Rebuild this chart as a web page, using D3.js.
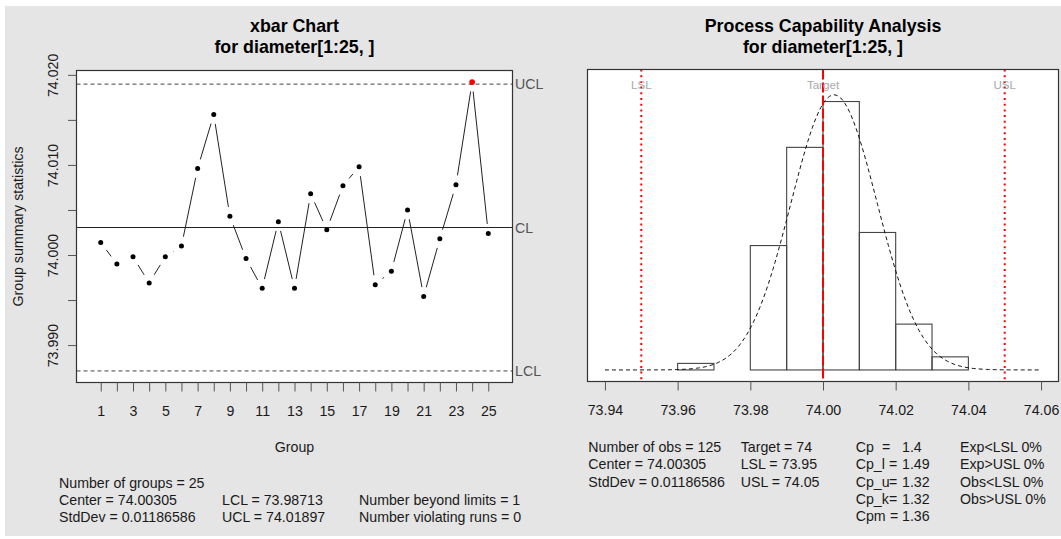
<!DOCTYPE html>
<html>
<head>
<meta charset="utf-8">
<script src="https://cdn.jsdelivr.net/npm/d3@7"></script>
<style>
  html, body { margin: 0; padding: 0; background: #ffffff; }
  svg { display: block; font-family: "Liberation Sans", Arial, sans-serif; }
  text { white-space: pre; }
</style>
</head>
<body>
<svg id="chart" width="1061" height="539"></svg>
<script>
// ---- xbar chart data: group means of diameter[1:25, ] ----
const groups = [1, 2, 3, 4, 5, 6, 7, 8, 9, 10, 11, 12, 13, 14, 15, 16, 17, 18, 19, 20, 21, 22, 23, 24, 25];
const groupMeans = [
  74.0014, 73.9990, 73.9998, 73.9969, 73.9998, 74.0010, 74.0096, 74.0156, 74.0043, 73.9996,
  73.9963, 74.0037, 73.9963, 74.0068, 74.0028, 74.0077, 74.0098, 73.9967, 73.9982, 74.0050,
  73.9954, 74.0018, 74.0078, 74.0192, 74.0024
];
const centerLine = 74.00305;
const lowerLimit = 73.98713;
const upperLimit = 74.01897;
const stdDev = 0.01186586;
const xbarYTicks = [73.990, 73.995, 74.000, 74.005, 74.010, 74.015, 74.020];
const xbarYLabelled = [73.990, 74.000, 74.010, 74.020];

// ---- process capability data ----
const binBreaks = [73.96, 73.97, 73.98, 73.99, 74.00, 74.01, 74.02, 74.03, 74.04];
const binCounts = [1, 0, 19, 34, 41, 21, 7, 2];
const nObs = 125;
const lsl = 73.95, usl = 74.05, target = 74;
const capXTicks = [73.94, 73.96, 73.98, 74.00, 74.02, 74.04, 74.06];
const capIndices = [["Cp", "1.4"], ["Cp_l", "1.49"], ["Cp_u", "1.32"], ["Cp_k", "1.32"], ["Cpm", "1.36"]];
const expObs = ["Exp<LSL 0%", "Exp>USL 0%", "Obs<LSL 0%", "Obs>USL 0%"];

const svg = d3.select("#chart");
const FS = 14.2;
const BOX = "#333333";
const TICK = "#555555";
const TXT = "#1a1a1a";

// panel background
svg.append("rect").attr("x", 5).attr("y", 6).attr("width", 1056).attr("height", 530).attr("fill", "#e5e5e5");

// R-style range expansion by 4% on each side
const pad = ([a, b]) => { const d = (b - a) * 0.04; return [a - d, b + d]; };

// ================= xbar chart =================
const L = { x0: 76.5, x1: 512.5, y0: 70.5, y1: 382.5 };
const xG = d3.scaleLinear().domain(pad([0.5, groups.length + 0.5])).range([L.x0, L.x1]);
const yG = d3.scaleLinear()
  .domain(pad(d3.extent(groupMeans.concat([lowerLimit, upperLimit]))))
  .range([L.y1, L.y0]);

const gL = svg.append("g");
gL.append("rect").attr("x", L.x0).attr("y", L.y0).attr("width", L.x1 - L.x0).attr("height", L.y1 - L.y0)
  .attr("fill", "#ffffff");

// control lines
gL.append("line").attr("x1", L.x0).attr("x2", L.x1).attr("y1", yG(centerLine)).attr("y2", yG(centerLine))
  .attr("stroke", "#222").attr("stroke-width", 1.1);
[lowerLimit, upperLimit].forEach(v => {
  gL.append("line").attr("x1", L.x0).attr("x2", L.x1).attr("y1", yG(v)).attr("y2", yG(v))
    .attr("stroke", "#444").attr("stroke-width", 1).attr("stroke-dasharray", "4,3");
});
[["UCL", upperLimit], ["CL", centerLine], ["LCL", lowerLimit]].forEach(([t, v]) => {
  gL.append("text").attr("x", L.x1 + 2.5).attr("y", yG(v)).attr("dy", "0.36em")
    .attr("font-size", FS).attr("fill", "#555").text(t);
});

// connecting segments with gaps around points
const gap = 9.5;
for (let i = 0; i < groups.length - 1; i++) {
  const ax = xG(groups[i]), ay = yG(groupMeans[i]);
  const bx = xG(groups[i + 1]), by = yG(groupMeans[i + 1]);
  const d = Math.hypot(bx - ax, by - ay);
  if (d <= 2 * gap) continue;
  const ux = (bx - ax) / d, uy = (by - ay) / d;
  gL.append("line")
    .attr("x1", ax + ux * gap).attr("y1", ay + uy * gap)
    .attr("x2", bx - ux * gap).attr("y2", by - uy * gap)
    .attr("stroke", "#222").attr("stroke-width", 1);
}
const outside = v => v > upperLimit || v < lowerLimit;
gL.selectAll("circle.pt").data(groups).join("circle")
  .attr("cx", (g) => xG(g)).attr("cy", (g, i) => yG(groupMeans[i]))
  .attr("r", (g, i) => outside(groupMeans[i]) ? 2.9 : 2.5)
  .attr("fill", (g, i) => outside(groupMeans[i]) ? "#ff0000" : "#000");

gL.append("rect").attr("x", L.x0).attr("y", L.y0).attr("width", L.x1 - L.x0).attr("height", L.y1 - L.y0)
  .attr("fill", "none").attr("stroke", BOX).attr("stroke-width", 1.2);

// axes
const axB = gL.append("g").attr("transform", `translate(0,${L.y1})`)
  .call(d3.axisBottom(xG).tickValues(groups).tickSize(9).tickPadding(14.5)
    .tickFormat(g => (g % 2 === 1 ? String(g) : "")));
const axL = gL.append("g").attr("transform", `translate(${L.x0},0)`)
  .call(d3.axisLeft(yG).tickValues(xbarYTicks).tickSize(8.5)
    .tickFormat(v => (xbarYLabelled.some(t => Math.abs(t - v) < 1e-9) ? d3.format(".3f")(v) : "")));
[axB, axL].forEach(ax => {
  ax.select(".domain").remove();
  ax.selectAll(".tick line").attr("stroke", TICK);
  ax.selectAll(".tick text").attr("font-size", FS).attr("font-family", "Liberation Sans, Arial, sans-serif").attr("fill", TXT);
});
axL.selectAll(".tick text")
  .attr("x", null).attr("dy", "0em")
  .attr("text-anchor", "middle")
  .attr("transform", "translate(-19,0) rotate(-90)")
  .attr("y", 0);

gL.append("text").attr("x", (L.x0 + L.x1) / 2).attr("y", 447.5).attr("dy", "0.35em")
  .attr("text-anchor", "middle").attr("font-size", FS).attr("fill", TXT).text("Group");
gL.append("text").attr("transform", `translate(23,${(L.y0 + L.y1) / 2}) rotate(-90)`)
  .attr("text-anchor", "middle").attr("font-size", FS).attr("fill", TXT).text("Group summary statistics");

// titles
function title(g, cx, lines) {
  lines.forEach((t, i) => {
    g.append("text").attr("x", cx).attr("y", 31.5 + i * 21.5).attr("text-anchor", "middle")
      .attr("font-size", 17.8).attr("font-weight", "bold").attr("fill", "#000").text(t);
  });
}
title(gL, (L.x0 + L.x1) / 2, ["xbar Chart", "for diameter[1:25, ]"]);

// summary text
const lh = 17.2;
const leftStats = [
  [59, 0, `Number of groups = ${groups.length}`],
  [59, 1, `Center = ${centerLine}`],
  [59, 2, `StdDev = ${stdDev}`],
  [222, 1, `LCL = ${lowerLimit}`],
  [222, 2, `UCL = ${upperLimit}`],
  [359, 1, `Number beyond limits = ${groupMeans.filter(outside).length}`],
  [359, 2, "Number violating runs = 0"]
];
leftStats.forEach(([x, r, t]) => {
  gL.append("text").attr("x", x).attr("y", 482.8 + r * lh).attr("dy", "0.35em")
    .attr("font-size", FS).attr("fill", TXT).text(t);
});

// ================= process capability =================
const R = { x0: 587.5, x1: 1058.5, y0: 69.5, y1: 381.5 };
const xC = d3.scaleLinear().domain(pad([capXTicks[0], capXTicks[capXTicks.length - 1]])).range([R.x0, R.x1]);
const binW = binBreaks[1] - binBreaks[0];
const density = binCounts.map(c => c / (nObs * binW));
const dnorm = x => Math.exp(-0.5 * ((x - centerLine) / stdDev) ** 2) / (stdDev * Math.sqrt(2 * Math.PI));
const yMax = d3.max(density.concat([dnorm(centerLine)]));
const yC = d3.scaleLinear().domain(pad([0, yMax * 1.05])).range([R.y1, R.y0]);

const gR = svg.append("g");
gR.append("rect").attr("x", R.x0).attr("y", R.y0).attr("width", R.x1 - R.x0).attr("height", R.y1 - R.y0)
  .attr("fill", "#ffffff");

// histogram bars
gR.selectAll("rect.bin").data(density).join("rect")
  .attr("x", (d, i) => xC(binBreaks[i])).attr("width", (d, i) => xC(binBreaks[i + 1]) - xC(binBreaks[i]))
  .attr("y", d => yC(d)).attr("height", d => yC(0) - yC(d))
  .attr("fill", "none").attr("stroke", "#444").attr("stroke-width", 1.1);

// fitted normal curve
const cx0 = capXTicks[0], cx1 = capXTicks[capXTicks.length - 1];
const curvePts = d3.range(0, 201).map(k => cx0 + (cx1 - cx0) * k / 200);
gR.append("path").datum(curvePts)
  .attr("d", d3.line().x(x => xC(x)).y(x => yC(dnorm(x))))
  .attr("fill", "none").attr("stroke", "#111").attr("stroke-width", 1).attr("stroke-dasharray", "4,3");

// spec limits and target
[lsl, usl].forEach(v => {
  gR.append("line").attr("x1", xC(v)).attr("x2", xC(v)).attr("y1", R.y0).attr("y2", R.y1)
    .attr("stroke", "#ff0000").attr("stroke-width", 2).attr("stroke-dasharray", "2,3.7");
});
gR.append("line").attr("x1", xC(target)).attr("x2", xC(target)).attr("y1", R.y0).attr("y2", R.y1)
  .attr("stroke", "#ff0000").attr("stroke-width", 2).attr("stroke-dasharray", "10,3");
[["LSL", lsl], ["Target", target], ["USL", usl]].forEach(([t, v]) => {
  gR.append("text").attr("x", xC(v)).attr("y", 85).attr("dy", "0.35em").attr("text-anchor", "middle")
    .attr("font-size", 11.6).attr("fill", "#a8a8a8").text(t);
});

gR.append("rect").attr("x", R.x0).attr("y", R.y0).attr("width", R.x1 - R.x0).attr("height", R.y1 - R.y0)
  .attr("fill", "none").attr("stroke", BOX).attr("stroke-width", 1.2);

const axC = gR.append("g").attr("transform", `translate(0,${R.y1})`)
  .call(d3.axisBottom(xC).tickValues(capXTicks).tickSize(9).tickPadding(14.5).tickFormat(d3.format(".2f")));
axC.select(".domain").remove();
axC.selectAll(".tick line").attr("stroke", TICK);
axC.selectAll(".tick text").attr("font-size", FS).attr("font-family", "Liberation Sans, Arial, sans-serif").attr("fill", TXT);

title(gR, (R.x0 + R.x1) / 2, ["Process Capability Analysis", "for diameter[1:25, ]"]);

const rTop = 447.3;
const rightStats = [
  [588.3, 0, `Number of obs = ${nObs}`],
  [588.3, 1, `Center = ${centerLine}`],
  [588.3, 2, `StdDev = ${stdDev}`],
  [740.7, 0, `Target = ${target}`],
  [740.7, 1, `LSL = ${lsl}`],
  [740.7, 2, `USL = ${usl}`]
];
rightStats.forEach(([x, r, t]) => {
  gR.append("text").attr("x", x).attr("y", rTop + r * lh).attr("dy", "0.35em")
    .attr("font-size", FS).attr("fill", TXT).text(t);
});
// capability indices: name, "=" sign and value in their own columns
capIndices.forEach(([name, val], r) => {
  const y = rTop + r * lh;
  gR.append("text").attr("x", 855.7).attr("y", y).attr("dy", "0.35em")
    .attr("font-size", FS).attr("fill", TXT).text(name);
  gR.append("text").attr("x", name === "Cp" ? 882 : (name === "Cpm" ? 890 : 889)).attr("y", y).attr("dy", "0.35em")
    .attr("font-size", FS).attr("fill", TXT).text("=");
  gR.append("text").attr("x", 902).attr("y", y).attr("dy", "0.35em")
    .attr("font-size", FS).attr("fill", TXT).text(val);
});
expObs.forEach((t, r) => {
  gR.append("text").attr("x", 960).attr("y", rTop + r * lh).attr("dy", "0.35em")
    .attr("font-size", FS).attr("fill", TXT).text(t);
});
</script>
</body>
</html>
